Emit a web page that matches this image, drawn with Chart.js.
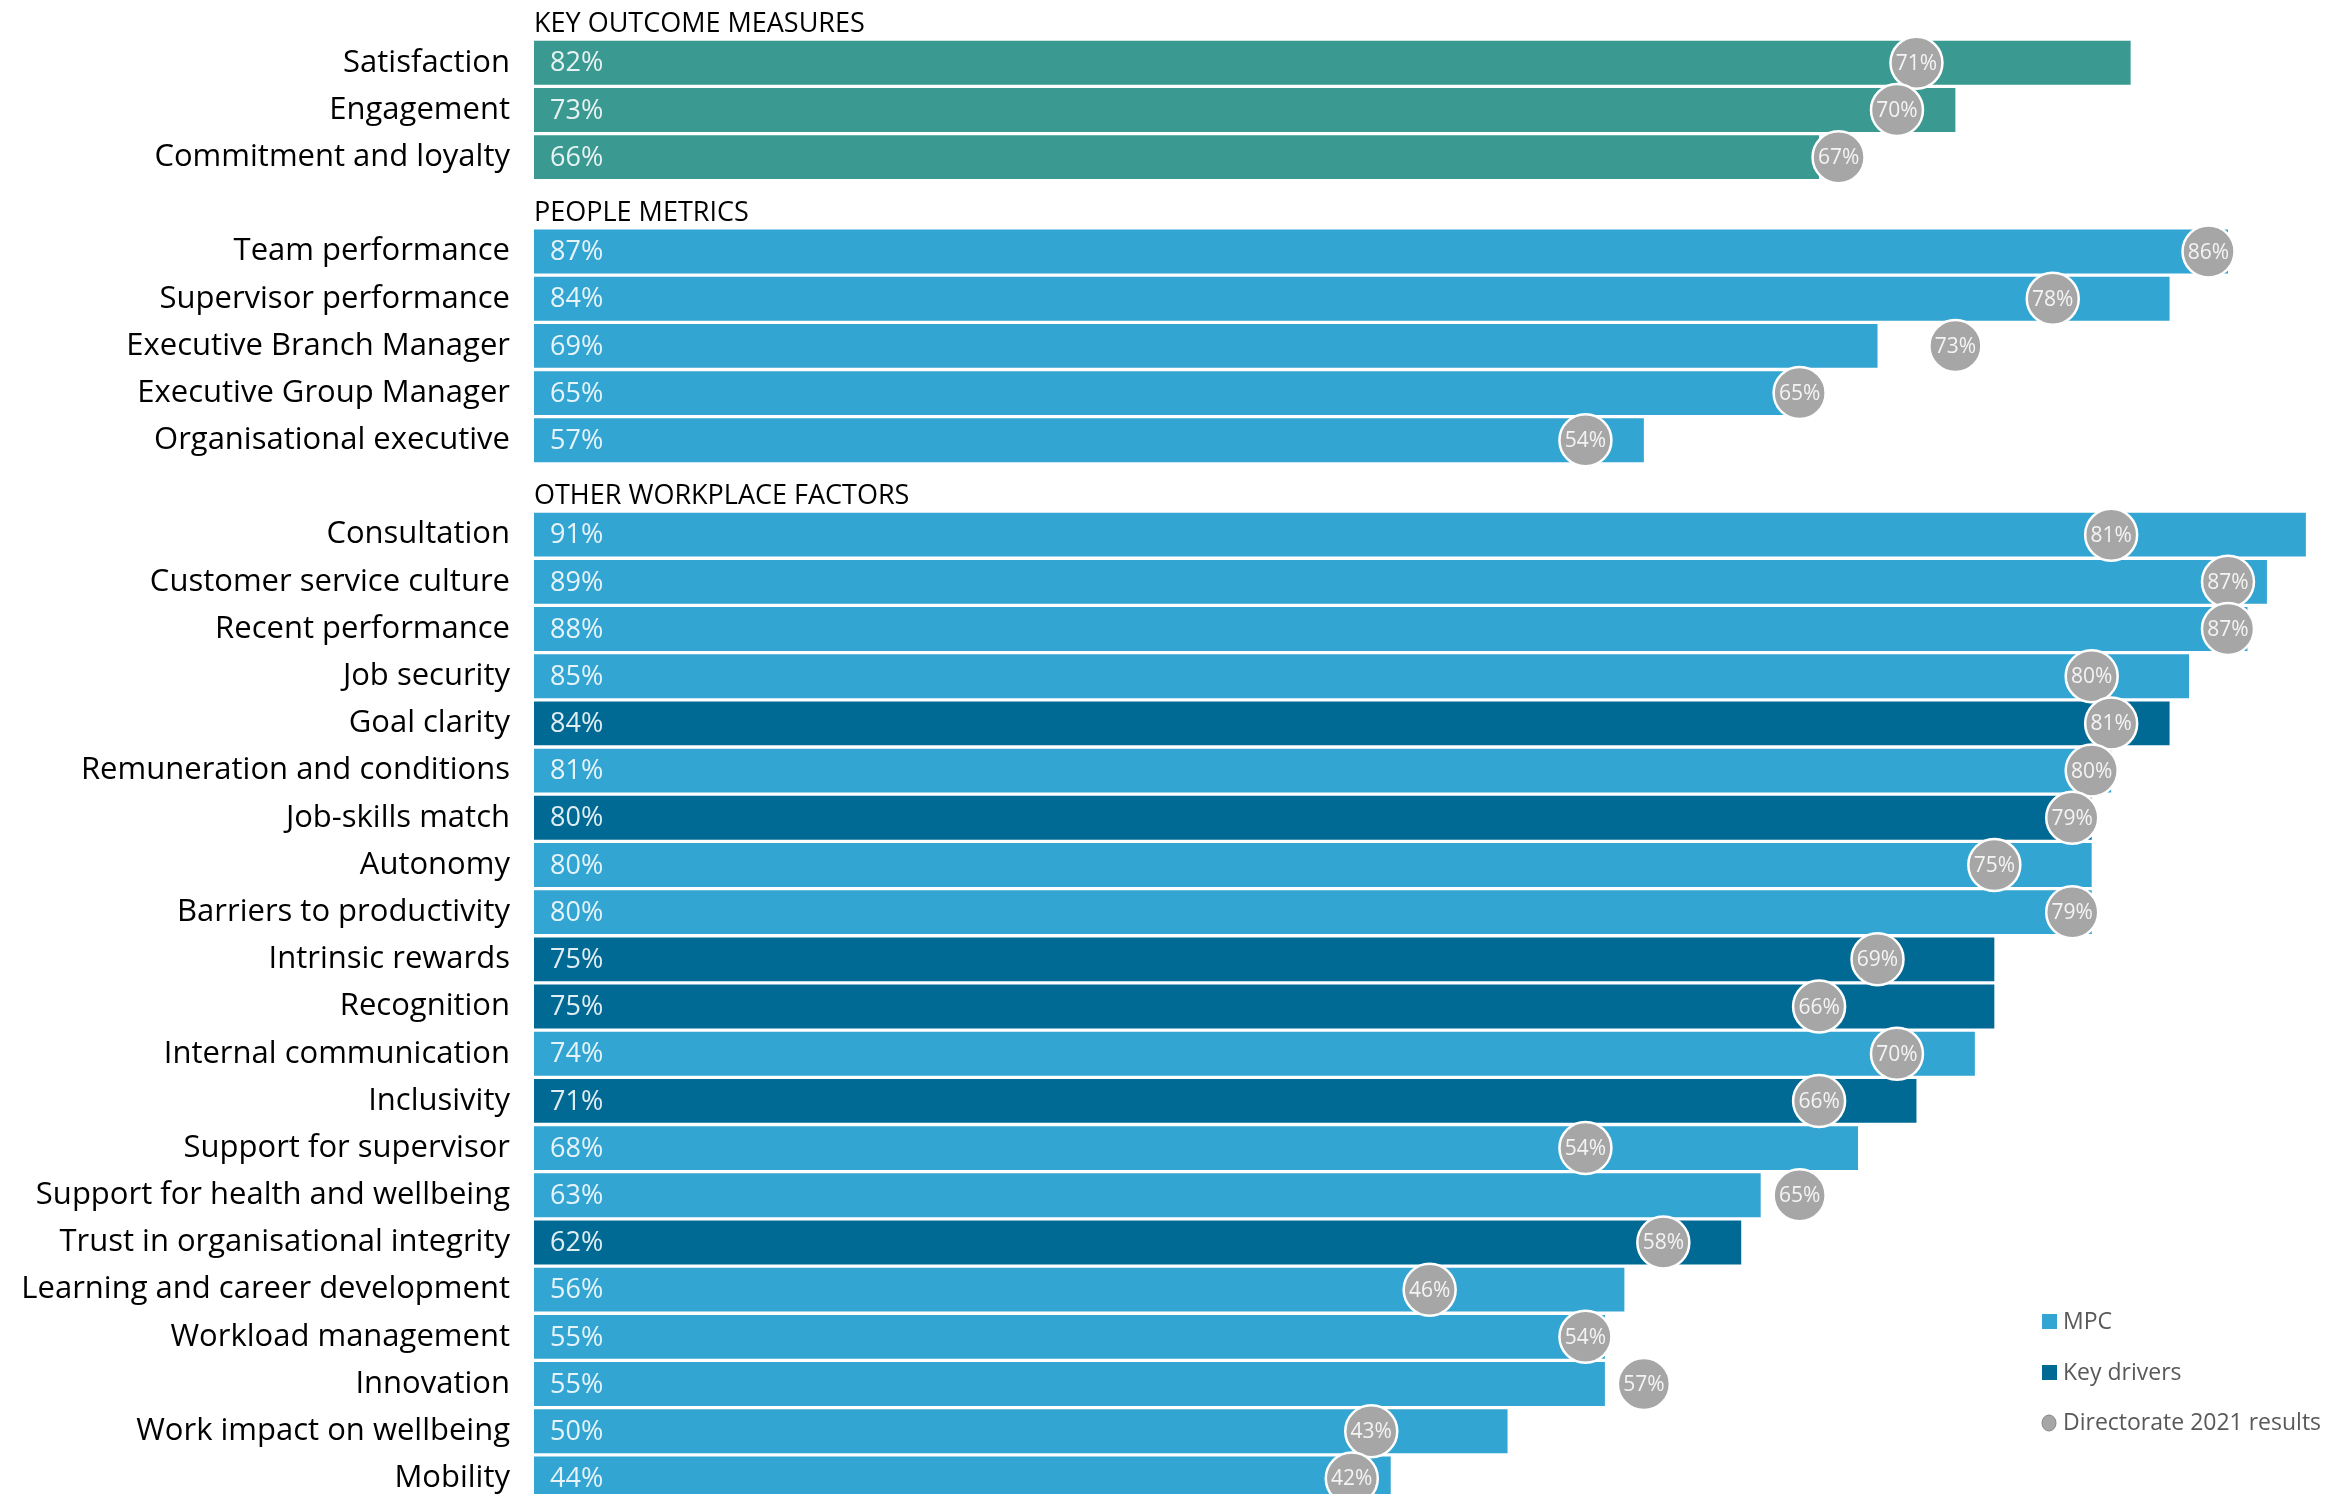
<!DOCTYPE html>
<html>
<head>
<meta charset="utf-8">
<script src="https://cdn.jsdelivr.net/npm/chart.js@4.4.0/dist/chart.umd.min.js"></script>
<style>
  html, body { margin: 0; padding: 0; background: #fff; overflow: hidden; }
  #wrap { position: absolute; left: 0; top: -8px; width: 2338px; height: 1510px; }
</style>
</head>
<body>
<div id="wrap"><canvas id="myChart" width="2338" height="1510"></canvas></div>
<script>
// section titles
const sectionTitles = ['KEY OUTCOME MEASURES', 'PEOPLE METRICS', 'OTHER WORKPLACE FACTORS'];

const keyOutcomeLabels = ['Satisfaction', 'Engagement', 'Commitment and loyalty'];
const keyOutcomeMpc = [82, 73, 66];
const keyOutcomeDirectorate = [71, 70, 67];

const peopleLabels = ['Team performance', 'Supervisor performance', 'Executive Branch Manager',
    'Executive Group Manager', 'Organisational executive'];
const peopleMpc = [87, 84, 69, 65, 57];
const peopleDirectorate = [86, 78, 73, 65, 54];

const otherLabels = ['Consultation', 'Customer service culture', 'Recent performance', 'Job security',
    'Goal clarity', 'Remuneration and conditions', 'Job-skills match', 'Autonomy',
    'Barriers to productivity', 'Intrinsic rewards', 'Recognition', 'Internal communication',
    'Inclusivity', 'Support for supervisor', 'Support for health and wellbeing',
    'Trust in organisational integrity', 'Learning and career development', 'Workload management',
    'Innovation', 'Work impact on wellbeing', 'Mobility'];
const otherMpc = [91, 89, 88, 85, 84, 81, 80, 80, 80, 75, 75, 74, 71, 68, 63, 62, 56, 55, 55, 50, 44];
const otherDirectorate = [81, 87, 87, 80, 81, 80, 79, 75, 79, 69, 66, 70, 66, 54, 65, 58, 46, 54, 57, 43, 42];

const keyDrivers = ['Goal clarity', 'Job-skills match', 'Intrinsic rewards', 'Recognition',
    'Inclusivity', 'Trust in organisational integrity'];

const TEAL = '#3a9991';
const MPC = '#33a5d2';
const KEY = '#006a95';
const DOT = '#a6a6a6';
const FONT = '"Open Sans", sans-serif';

// build rows: a blank header row before each section
const labels = [];
const mpc = [];
const directorate = [];
const colors = [];
const headers = [];

function addSection(title, names, bars, dots, isOutcome) {
    labels.push(''); mpc.push(null); directorate.push(null); colors.push(MPC); headers.push(title);
    names.forEach((n, i) => {
        labels.push(n);
        mpc.push(bars[i]);
        directorate.push(dots[i]);
        headers.push(null);
        if (isOutcome) colors.push(TEAL);
        else colors.push(keyDrivers.includes(n) ? KEY : MPC);
    });
}
addSection(sectionTitles[0], keyOutcomeLabels, keyOutcomeMpc, keyOutcomeDirectorate, true);
addSection(sectionTitles[1], peopleLabels, peopleMpc, peopleDirectorate, false);
addSection(sectionTitles[2], otherLabels, otherMpc, otherDirectorate, false);

const textPlugin = {
    id: 'textPlugin',
    afterDatasetsDraw(chart) {
        const ctx = chart.ctx;
        const x = chart.scales.x;
        const barMeta = chart.getDatasetMeta(1);
        const dotMeta = chart.getDatasetMeta(0);
        ctx.save();

        // section titles
        ctx.font = '500 27px ' + FONT;
        ctx.fillStyle = '#000';
        ctx.textAlign = 'left';
        ctx.textBaseline = 'alphabetic';
        headers.forEach((h, i) => {
            if (!h) return;
            const nextBar = barMeta.data[i + 1];
            ctx.fillText(h, x.getPixelForValue(0), nextBar.y - nextBar.height / 2 - 9);
        });

        // values inside bars
        ctx.font = '27px ' + FONT;
        ctx.fillStyle = 'rgba(255,255,255,0.88)';
        ctx.textBaseline = 'middle';
        barMeta.data.forEach((bar, i) => {
            if (mpc[i] == null) return;
            ctx.fillText(mpc[i] + '%', bar.base + 16, bar.y + 1);
        });

        // values inside circles
        ctx.font = '21px ' + FONT;
        ctx.fillStyle = '#f4f4f4';
        ctx.textAlign = 'center';
        dotMeta.data.forEach((pt, i) => {
            if (directorate[i] == null) return;
            ctx.fillText(directorate[i] + '%', pt.x, pt.y + 1);
        });
        ctx.restore();
    },
    afterDraw(chart) {
        // legend, bottom right
        const ctx = chart.ctx;
        ctx.save();
        ctx.font = '23px ' + FONT;
        ctx.textAlign = 'left';
        ctx.textBaseline = 'middle';
        const lx = 2042;
        ctx.fillStyle = MPC;
        ctx.fillRect(lx, 1322, 15, 15);
        ctx.fillStyle = KEY;
        ctx.fillRect(lx, 1373, 15, 15);
        ctx.beginPath();
        ctx.ellipse(lx + 7, 1431, 7, 8, 0, 0, Math.PI * 2);
        ctx.fillStyle = DOT;
        ctx.fill();
        ctx.strokeStyle = '#888';
        ctx.lineWidth = 1;
        ctx.stroke();
        ctx.fillStyle = '#595959';
        ctx.fillText('MPC', lx + 21, 1330);
        ctx.fillText('Key drivers', lx + 21, 1381);
        ctx.fillText('Directorate 2021 results', lx + 21, 1431);
        ctx.restore();
    }
};

const ctx = document.getElementById('myChart');

new Chart(ctx, {
    type: 'bar',
    data: {
        labels: labels,
        datasets: [{
            type: 'line',
            label: 'Directorate 2021 results',
            data: directorate,
            indexAxis: 'y',
            showLine: false,
            pointRadius: 26,
            pointBackgroundColor: DOT,
            pointBorderColor: '#ffffff',
            pointBorderWidth: 2.5,
            clip: false,
            order: 0,
        }, {
            label: 'MPC',
            data: mpc,
            backgroundColor: colors,
            borderWidth: 0,
            barPercentage: 0.93,
            categoryPercentage: 1,
            order: 1,
        }]
    },
    options: {
        indexAxis: 'y',
        responsive: false,
        animation: false,
        events: [],
        layout: { padding: 0, autoPadding: false },
        scales: {
            x: {
                display: false,
                min: 0,
                max: 92.65,
            },
            y: {
                afterFit: (scale) => {
                    scale.width = 534;
                    scale.paddingTop = 0;
                    scale.paddingBottom = 0;
                },
                grid: { display: false, drawTicks: false },
                border: { display: false },
                ticks: {
                    autoSkip: false,
                    padding: 24,
                    color: '#000',
                    font: { family: FONT, size: 31, weight: 500 },
                }
            }
        },
        plugins: {
            legend: { display: false },
            tooltip: { enabled: false },
        }
    },
    plugins: [textPlugin]
});
</script>
</body>
</html>
